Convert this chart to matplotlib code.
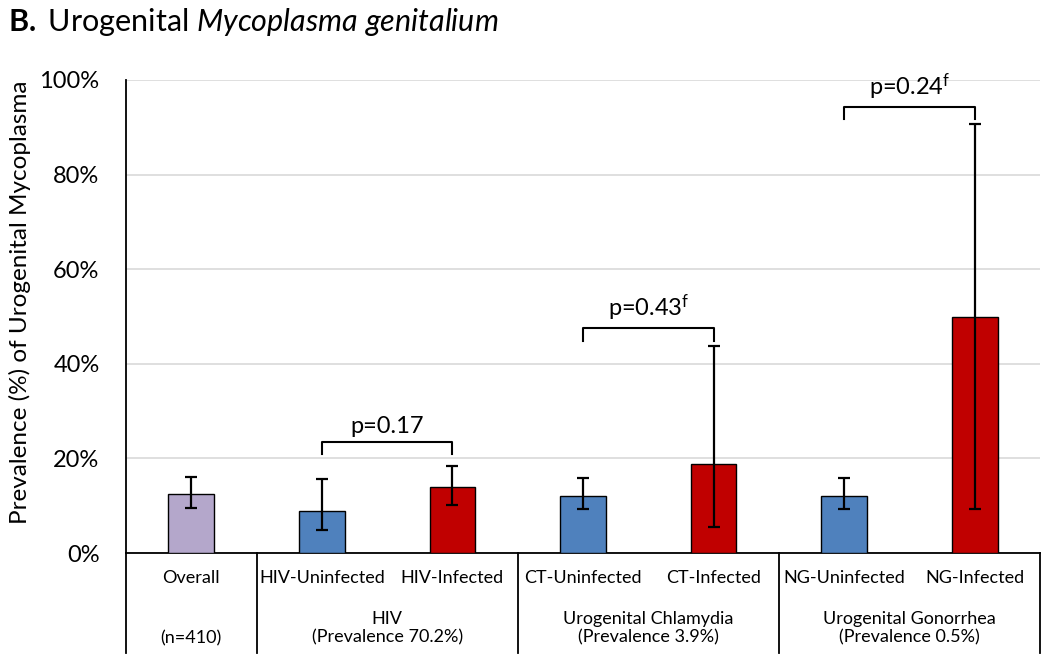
import matplotlib
matplotlib.use("Agg")
import matplotlib.pyplot as plt
import matplotlib.transforms as mtransforms
import numpy as np

# ---------------------------------------------------------------------------
# Data
# ---------------------------------------------------------------------------

CATEGORIES = ["Overall", "HIV-Uninfected", "HIV-Infected", "CT-Uninfected",
              "CT-Infected", "NG-Uninfected", "NG-Infected"]
PREVALENCE = [12.4, 8.9, 13.9, 12.1, 18.8, 12.1, 50.0]
CI_LOW = [9.6, 4.9, 10.2, 9.3, 5.6, 9.3, 9.3]
CI_HIGH = [16.0, 15.6, 18.3, 15.8, 43.8, 15.8, 90.7]
BAR_KIND = ["overall", "uninf", "inf", "uninf", "inf", "uninf", "inf"]

GROUPS = ["(n=410)", "HIV\n(Prevalence 70.2%)",
          "Urogenital Chlamydia\n(Prevalence 3.9%)",
          "Urogenital Gonorrhea\n(Prevalence 0.5%)"]
GROUP_SPANS = [(0, 0), (1, 2), (3, 4), (5, 6)]

# comparisons: (left bar, right bar), label, bracket height, leg bottom
P_LABELS = ["p=0.17", "p=0.43$^{\\mathrm{f}}$", "p=0.24$^{\\mathrm{f}}$"]
P_PAIRS = [(1, 2), (3, 4), (5, 6)]
P_HEIGHTS = [23.5, 47.6, 94.3]
P_LEGS = [21.0, 44.8, 91.7]

# ---------------------------------------------------------------------------
# Style
# ---------------------------------------------------------------------------

COLORS = {"overall": "#B4A7CB", "uninf": "#4F81BD", "inf": "#C00000"}
FONT = "Lato"
plt.rcParams["font.family"] = [FONT, "DejaVu Sans"]
plt.rcParams["mathtext.fontset"] = "custom"
plt.rcParams["mathtext.rm"] = FONT
plt.rcParams["mathtext.it"] = f"{FONT}:italic"
plt.rcParams["mathtext.bf"] = f"{FONT}:bold"

fig = plt.figure(figsize=(10.5, 6.61), dpi=100)
ax = fig.add_axes([126 / 1050, 1 - 553 / 661, (1040 - 126) / 1050, 473 / 661])

x = np.arange(len(CATEGORIES))
colors = [COLORS[k] for k in BAR_KIND]
ax.bar(x, PREVALENCE, width=0.35, color=colors, edgecolor="black",
       linewidth=1.0, zorder=3)

yerr = [np.array(PREVALENCE) - np.array(CI_LOW),
        np.array(CI_HIGH) - np.array(PREVALENCE)]
ax.errorbar(x, PREVALENCE, yerr=yerr, fmt="none", ecolor="black",
            elinewidth=1.6, capsize=4, capthick=1.6, zorder=4)

# ---------------------------------------------------------------------------
# Axes
# ---------------------------------------------------------------------------

ax.set_xlim(-0.5, len(CATEGORIES) - 0.5)
ax.set_ylim(0, 100)
ax.set_yticks(range(0, 101, 20))
ax.set_yticklabels([f"{v}%" for v in range(0, 101, 20)], fontsize=17)
ax.tick_params(axis="y", length=0, pad=19)
ax.set_xticks([])
ax.yaxis.grid(True, color="#D9D9D9", linewidth=1.2, zorder=0)
ax.set_axisbelow(True)
for side in ("top", "right"):
    ax.spines[side].set_visible(False)
ax.spines["left"].set_linewidth(1.3)
ax.spines["bottom"].set_linewidth(1.3)

ax.set_ylabel("Prevalence (%) of Urogenital Mycoplasma", fontsize=17.5)
ax.yaxis.set_label_coords(-0.104, 0.53)

# ---------------------------------------------------------------------------
# Category table under the axis
# ---------------------------------------------------------------------------

trans = mtransforms.blended_transform_factory(ax.transData, ax.transAxes)
table_bottom = -0.211
for xs in [-0.5, 0.5, 2.5, 4.5, 6.5]:
    ax.plot([xs, xs], [0, table_bottom], transform=trans, color="black",
            linewidth=1.3, clip_on=False)

for xi, name in zip(x, CATEGORIES):
    ax.text(xi, -0.053, name, transform=trans, ha="center", va="center",
            fontsize=13)

for (a, b), label in zip(GROUP_SPANS, GROUPS):
    if "\n" in label:
        ax.text((a + b) / 2, -0.159, label, transform=trans, ha="center",
                va="center", fontsize=13, linespacing=1.15)
    else:
        ax.text((a + b) / 2, -0.18, label, transform=trans, ha="center",
                va="center", fontsize=13)

# ---------------------------------------------------------------------------
# p-value brackets
# ---------------------------------------------------------------------------

for (a, b), label, h, leg in zip(P_PAIRS, P_LABELS, P_HEIGHTS, P_LEGS):
    ax.plot([a, a, b, b], [leg, h, h, leg], color="black", linewidth=1.5,
            zorder=5, clip_on=False, solid_joinstyle="round")
    ax.text((a + b) / 2, h + 1.0, label, ha="center", va="bottom",
            fontsize=17, zorder=5)

# ---------------------------------------------------------------------------
# Title
# ---------------------------------------------------------------------------

fig.text(8 / 1050, 1 - 22 / 661,
         r"$\mathbf{B.}$ Urogenital $\mathit{Mycoplasma\ genitalium}$",
         ha="left", va="center", fontsize=22)

fig.savefig("out.png", dpi=100, facecolor="white")
